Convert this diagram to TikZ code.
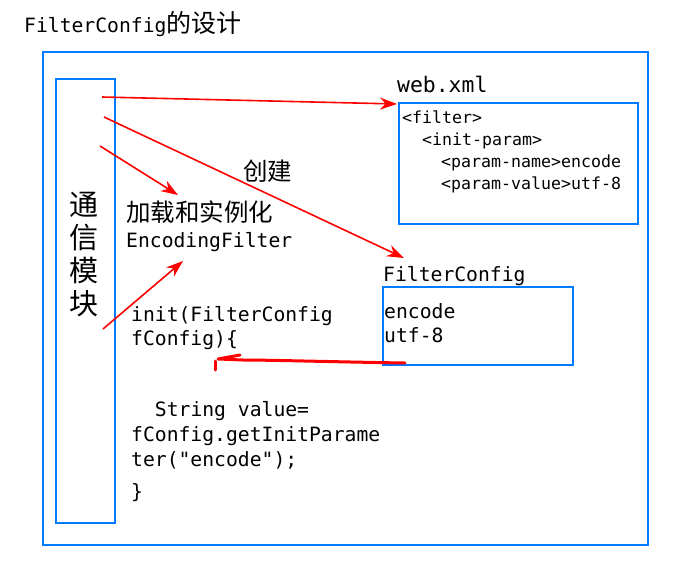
\documentclass[tikz,border=0pt]{standalone}
\usepackage{fontspec}
\setmonofont{DejaVu Sans Mono}
\newfontfamily\cjk{Noto Sans CJK SC}
\usetikzlibrary{arrows.meta}
\definecolor{frameblue}{RGB}{0,122,255}
\definecolor{penred}{RGB}{255,0,0}

\begin{document}
\begin{tikzpicture}
  [x=1pt, y=-1pt,
   box/.style={draw=frameblue, line width=2pt, inner sep=0pt, anchor=north west},
   code/.style={font=\ttfamily\fontsize{19.7}{24}\selectfont, inner sep=0pt, anchor=base west},
   xmlcode/.style={font=\ttfamily\fontsize{16.6}{22}\selectfont, inner sep=0pt, anchor=base west},
   zh/.style={font=\cjk\fontsize{24.5}{24.5}\selectfont, inner sep=0pt, anchor=base west},
   pen/.style={draw=penred, line width=1.6pt, -{Stealth[length=17pt, width=12pt]}},
   handpen/.style={draw=penred, line width=3pt, line cap=round, line join=round}]
  \useasboundingbox (0,0) rectangle (693,581);

  % frames
  \node[box, minimum width=605pt, minimum height=493pt] (outer) at (42,51) {};
  \node[box, minimum width=59pt, minimum height=444pt] (module) at (55,78) {};
  \node[box, minimum width=239pt, minimum height=121pt] (xmlbox) at (398,102) {};
  \node[box, minimum width=190pt, minimum height=78pt] (cfgbox) at (382,286) {};

  % texts
  \node[code] (title) at (24,32) {FilterConfig{\cjk\fontsize{25}{25}\selectfont 的设计}};
  \node[font=\cjk\fontsize{29}{33}\selectfont, align=center, inner sep=0pt] (modname) at (84,254) {通\\信\\模\\块};
  \node[code, font=\ttfamily\fontsize{21.4}{24}\selectfont] (webxml) at (397,92) {web.xml};
  \node[xmlcode] (x1) at (402,123) {<filter>};
  \node[xmlcode] (x2) at (422,145) {<init-param>};
  \node[xmlcode] (x3) at (441,167) {<param-name>encode};
  \node[xmlcode] (x4) at (441,189) {<param-value>utf-8};
  \node[zh] (create) at (243,180) {创建};
  \node[zh] (load) at (126,221) {加载和实例化};
  \node[code] (encfilter) at (126,247) {EncodingFilter};
  \node[code] (cfgname) at (383,281) {FilterConfig};
  \node[code] (cfgkey) at (384,318) {encode};
  \node[code] (cfgval) at (384,342) {utf-8};
  \node[code] (init1) at (131,321) {init(FilterConfig};
  \node[code] (init2) at (131,345) {fConfig)\{};
  \node[code] (body1) at (131,416) {\ \ String value=};
  \node[code] (body2) at (131,441) {fConfig.getInitParame};
  \node[code] (body3) at (131,466) {ter("encode");};
  \node[code] (close) at (131,498) {\}};

  % arrows
  \coordinate (m1) at (102,97);
  \coordinate (m2) at (104,117);
  \coordinate (m3) at (100,146);
  \coordinate (m4) at (103,329);
  \coordinate (t1) at (397,104);
  \coordinate (t2) at (404,258);
  \coordinate (t3) at (178,195);
  \coordinate (t4) at (183,261);
  \draw[pen] (m1) -- (t1);
  \draw[pen] (m2) -- (t2);
  \draw[pen] (m3) -- (t3);
  \draw[pen] (m4) -- (t4);
  \coordinate (h1) at (405,363);
  \coordinate (h2) at (218,359);
  \draw[handpen] (h1) .. controls (340,362) and (270,360) .. (243,360) -- (h2) -- (240,355);
  \draw[handpen] (215,361) -- (215,370);
\end{tikzpicture}
\end{document}
